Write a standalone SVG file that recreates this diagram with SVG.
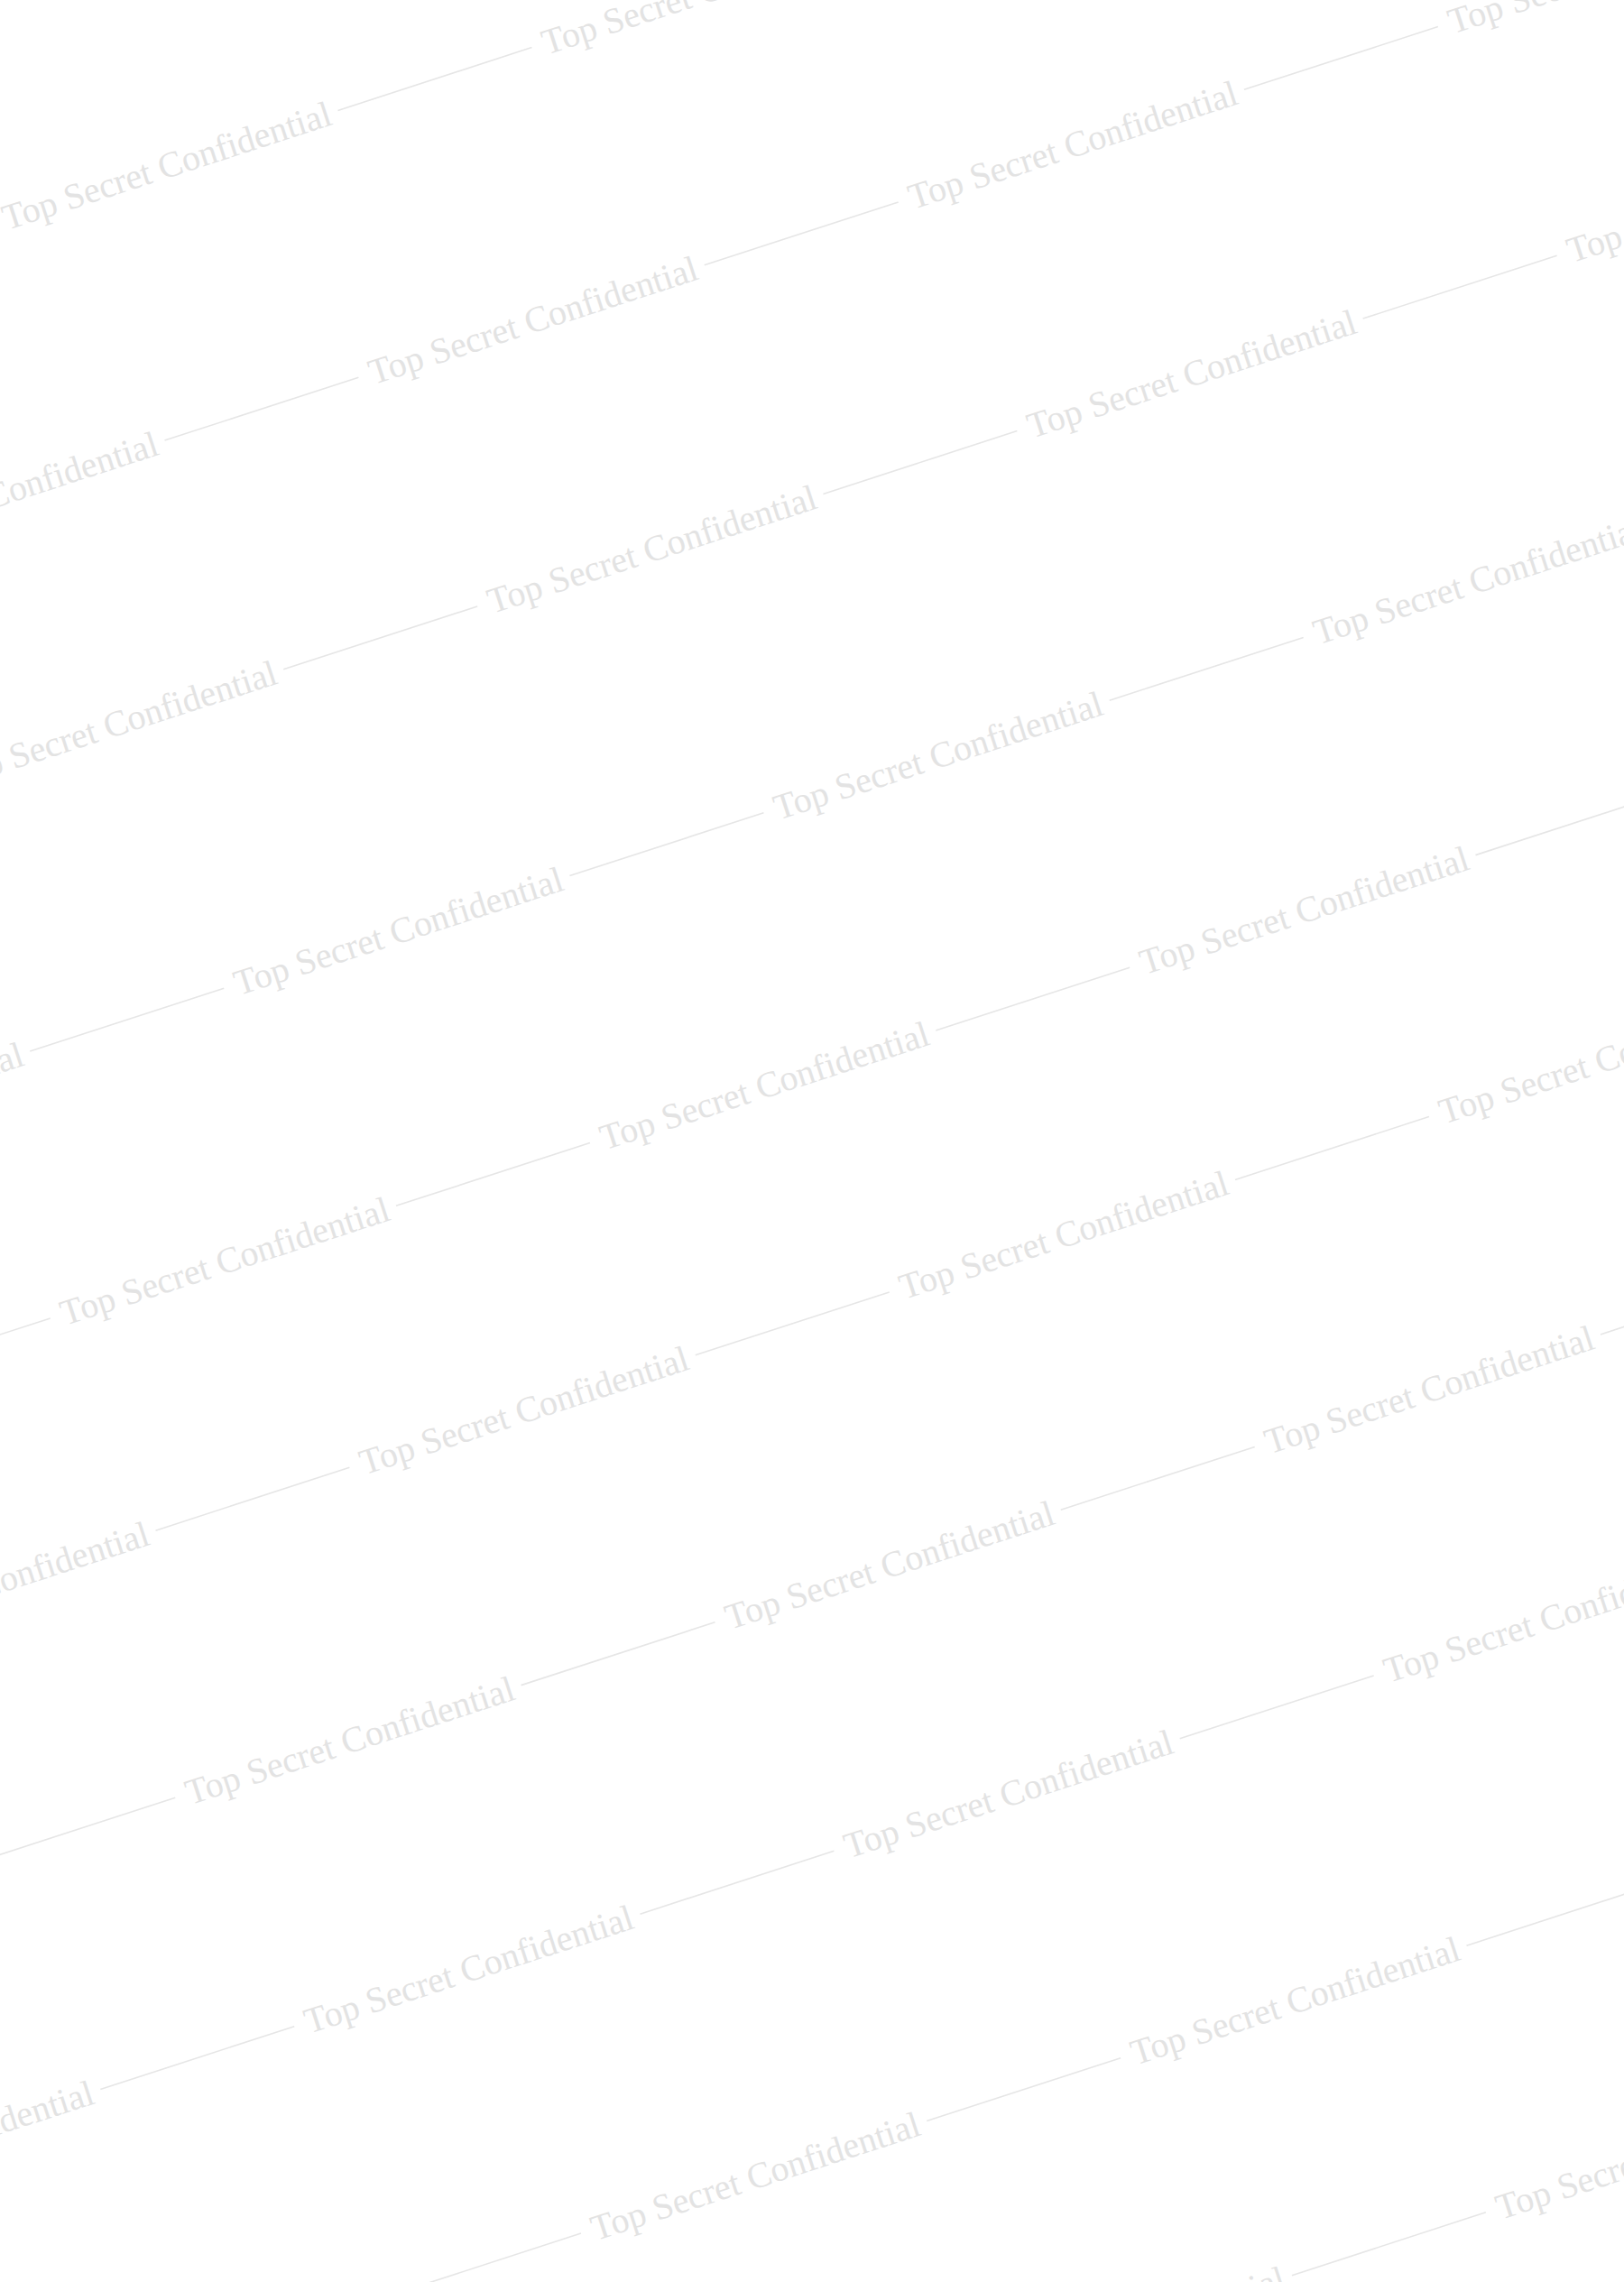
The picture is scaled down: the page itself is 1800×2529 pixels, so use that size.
<svg xmlns="http://www.w3.org/2000/svg" width="1800" height="2529" viewBox="0 0 1800 2529">
<style>
.wm{font-family:"Liberation Serif","DejaVu Serif",serif;font-size:40px;fill:#e3e3e3}
.ln{stroke:#e6e6e6;stroke-width:1.6;fill:none}
</style>
<rect x="0" y="0" width="1800" height="2529" fill="#ffffff"/>
<g id="row-a" transform="translate(0 244.1) rotate(-18)">
<text class="wm" x="3.8" y="13" textLength="381">Top Secret Confidential</text>
<line class="ln" x1="393.8" y1="0" x2="619.8" y2="0"/>
<text class="wm" x="632.8" y="13" textLength="381">Top Secret Confidential</text>
</g>
<g id="row-b" transform="translate(0 547.4) rotate(-18)">
<text class="wm" x="-198.1" y="13" textLength="381">Top Secret Confidential</text>
<line class="ln" x1="191.9" y1="0" x2="417.9" y2="0"/>
<text class="wm" x="430.9" y="13" textLength="381">Top Secret Confidential</text>
<line class="ln" x1="820.9" y1="0" x2="1046.9" y2="0"/>
<text class="wm" x="1059.9" y="13" textLength="381">Top Secret Confidential</text>
<line class="ln" x1="1449.9" y1="0" x2="1675.9" y2="0"/>
<text class="wm" x="1688.9" y="13" textLength="381">Top Secret Confidential</text>
</g>
<g id="row-c" transform="translate(0 843.9) rotate(-18)">
<text class="wm" x="-59.6" y="13" textLength="381">Top Secret Confidential</text>
<line class="ln" x1="330.4" y1="0" x2="556.4" y2="0"/>
<text class="wm" x="569.4" y="13" textLength="381">Top Secret Confidential</text>
<line class="ln" x1="959.4" y1="0" x2="1185.4" y2="0"/>
<text class="wm" x="1198.4" y="13" textLength="381">Top Secret Confidential</text>
<line class="ln" x1="1588.4" y1="0" x2="1814.4" y2="0"/>
<text class="wm" x="1827.4" y="13" textLength="381">Top Secret Confidential</text>
</g>
<g id="row-d" transform="translate(0 1175.8) rotate(-18)">
<text class="wm" x="-355" y="13" textLength="381">Top Secret Confidential</text>
<line class="ln" x1="35" y1="0" x2="261" y2="0"/>
<text class="wm" x="274" y="13" textLength="381">Top Secret Confidential</text>
<line class="ln" x1="664" y1="0" x2="890" y2="0"/>
<text class="wm" x="903" y="13" textLength="381">Top Secret Confidential</text>
<line class="ln" x1="1293" y1="0" x2="1519" y2="0"/>
<text class="wm" x="1532" y="13" textLength="381">Top Secret Confidential</text>
</g>
<g id="row-e" transform="translate(0 1479) rotate(-18)">
<line class="ln" x1="-167.4" y1="0" x2="58.6" y2="0"/>
<text class="wm" x="71.6" y="13" textLength="381">Top Secret Confidential</text>
<line class="ln" x1="461.6" y1="0" x2="687.6" y2="0"/>
<text class="wm" x="700.6" y="13" textLength="381">Top Secret Confidential</text>
<line class="ln" x1="1090.6" y1="0" x2="1316.6" y2="0"/>
<text class="wm" x="1329.6" y="13" textLength="381">Top Secret Confidential</text>
<line class="ln" x1="1719.6" y1="0" x2="1945.6" y2="0"/>
</g>
<g id="row-f" transform="translate(0 1752.2) rotate(-18)">
<text class="wm" x="-208.6" y="13" textLength="381">Top Secret Confidential</text>
<line class="ln" x1="181.4" y1="0" x2="407.4" y2="0"/>
<text class="wm" x="420.4" y="13" textLength="381">Top Secret Confidential</text>
<line class="ln" x1="810.4" y1="0" x2="1036.4" y2="0"/>
<text class="wm" x="1049.4" y="13" textLength="381">Top Secret Confidential</text>
<line class="ln" x1="1439.4" y1="0" x2="1665.4" y2="0"/>
<text class="wm" x="1678.4" y="13" textLength="381">Top Secret Confidential</text>
</g>
<g id="row-g" transform="translate(0 2055.3) rotate(-18)">
<line class="ln" x1="-21.7" y1="0" x2="204.3" y2="0"/>
<text class="wm" x="217.3" y="13" textLength="381">Top Secret Confidential</text>
<line class="ln" x1="607.3" y1="0" x2="833.3" y2="0"/>
<text class="wm" x="846.3" y="13" textLength="381">Top Secret Confidential</text>
<line class="ln" x1="1236.3" y1="0" x2="1462.3" y2="0"/>
<text class="wm" x="1475.3" y="13" textLength="381">Top Secret Confidential</text>
<line class="ln" x1="1865.3" y1="0" x2="2091.3" y2="0"/>
</g>
<g id="row-h" transform="translate(0 2351.7) rotate(-18)">
<text class="wm" x="-273" y="13" textLength="381">Top Secret Confidential</text>
<line class="ln" x1="117" y1="0" x2="343" y2="0"/>
<text class="wm" x="356" y="13" textLength="381">Top Secret Confidential</text>
<line class="ln" x1="746" y1="0" x2="972" y2="0"/>
<text class="wm" x="985" y="13" textLength="381">Top Secret Confidential</text>
<line class="ln" x1="1375" y1="0" x2="1601" y2="0"/>
<text class="wm" x="1614" y="13" textLength="381">Top Secret Confidential</text>
</g>
<g id="row-i" transform="translate(0 2684.3) rotate(-18)">
<line class="ln" x1="451.1" y1="0" x2="677.1" y2="0"/>
<text class="wm" x="690.1" y="13" textLength="381">Top Secret Confidential</text>
<line class="ln" x1="1080.1" y1="0" x2="1306.1" y2="0"/>
<text class="wm" x="1319.1" y="13" textLength="381">Top Secret Confidential</text>
<line class="ln" x1="1709.1" y1="0" x2="1935.1" y2="0"/>
</g>
<g id="row-j" transform="translate(0 2986.9) rotate(-18)">
<text class="wm" x="1115.6" y="13" textLength="381">Top Secret Confidential</text>
<line class="ln" x1="1505.6" y1="0" x2="1731.6" y2="0"/>
<text class="wm" x="1744.6" y="13" textLength="381">Top Secret Confidential</text>
</g>
</svg>
